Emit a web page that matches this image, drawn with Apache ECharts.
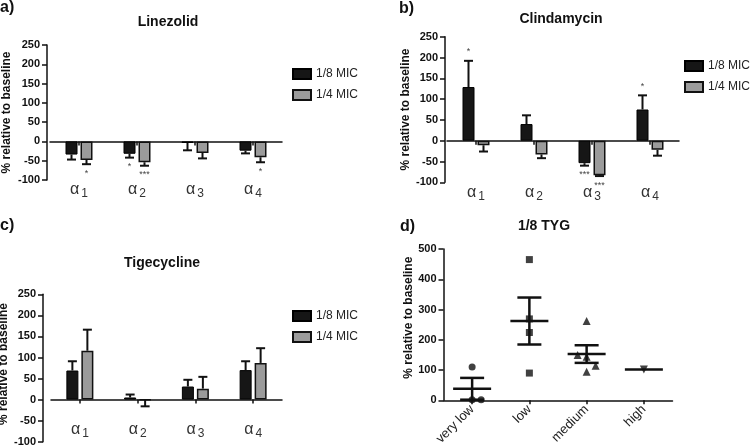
<!DOCTYPE html>
<html><head><meta charset="utf-8">
<script src="https://cdn.jsdelivr.net/npm/echarts@6/dist/echarts.min.js"></script>
<style>html,body{margin:0;padding:0;background:#fff}#c{width:754px;height:447px}</style>
</head><body><div id="c"></div><script>
// ---------- data ----------
const alphaCats = ['α1', 'α2', 'α3', 'α4'];
const seriesNames = ['1/8 MIC', '1/4 MIC'];

// a) Linezolid
const linezolidEighth = [-34, -32, -4, -24];
const linezolidEighthErr = [13, 10, 19, 7];
const linezolidEighthSig = ['', '*', '', ''];
const linezolidQuarter = [-48, -54, -30, -41];
const linezolidQuarterErr = [11, 9, 14, 13];
const linezolidQuarterSig = ['*', '***', '', '*'];

// b) Clindamycin
const clindaEighth = [129, 40, -54, 75];
const clindaEighthErr = [63, 21, 6, 34];
const clindaEighthSig = ['*', '', '***', '*'];
const clindaQuarter = [-11, -33, -83, -22];
const clindaQuarterErr = [15, 9, 2, 14];
const clindaQuarterSig = ['', '', '***', ''];

// c) Tigecycline
const tigeEighth = [69, 5, 31, 70];
const tigeEighthErr = [22, 7, 16, 21];
const tigeQuarter = [116, -1, 26, 87];
const tigeQuarterErr = [50, 15, 28, 35];

// d) 1/8 TYG
const tygCats = ['very low', 'low', 'medium', 'high'];
const tygVeryLow = [110, 2, 2];
const tygLow = [465, 269, 224, 90];
const tygMedium = [262, 150, 144, 114, 94];
const tygHigh = [102];

// ---------- helpers ----------
const FONT = "'Liberation Sans', Arial, Helvetica, sans-serif";
const INK = '#111';

function meanSem(arr) {
  const n = arr.length;
  const m = arr.reduce((s, v) => s + v, 0) / n;
  if (n < 2) return [m, 0];
  const sd = Math.sqrt(arr.reduce((s, v) => s + (v - m) * (v - m), 0) / (n - 1));
  return [m, sd / Math.sqrt(n)];
}

function barPanelAxes(gi, yOffset, nameGap, namePad, labelOffset) {
  const y = {
    gridIndex: gi, type: 'value', min: -100, max: 250, interval: 50, offset: yOffset,
    axisLine: { show: true, lineStyle: { color: INK, width: 1.5 } },
    axisTick: { show: true, length: 5, lineStyle: { color: INK, width: 1.5 } },
    axisLabel: { fontFamily: FONT, fontWeight: 'bold', fontSize: 11, color: INK, margin: 7 },
    splitLine: { show: false },
    name: '% relative to baseline', nameLocation: 'middle', nameGap: nameGap,
    nameTextStyle: { fontFamily: FONT, fontWeight: 'bold', fontSize: 12, color: INK, padding: namePad }
  };
  const xZero = {
    gridIndex: gi, type: 'category', data: alphaCats, position: 'bottom',
    axisLine: { show: true, onZero: true, lineStyle: { color: INK, width: 1.5 } },
    axisTick: { show: true, alignWithLabel: true, interval: 0, length: 4, lineStyle: { color: INK, width: 1.5 } },
    axisLabel: { show: false, interval: 0 }, splitLine: { show: false }
  };
  const xLab = {
    gridIndex: gi, type: 'category', data: alphaCats, position: 'bottom', offset: labelOffset,
    axisLine: { show: false, onZero: false }, axisTick: { show: false }, splitLine: { show: false },
    axisLabel: {
      margin: 2, interval: 0, hideOverlap: false,
      formatter: v => '{a|' + v.charAt(0) + '}{s|' + v.slice(1) + '}',
      rich: {
        a: { fontFamily: FONT, fontSize: 16, color: '#333', verticalAlign: 'top', lineHeight: 18 },
        s: { fontFamily: FONT, fontSize: 12, color: '#333', verticalAlign: 'top', lineHeight: 14, padding: [6, 0, 0, 2] }
      }
    }
  };
  return { y, xZero, xLab };
}

function barSeries(axisIdx, name, vals, dark) {
  return {
    type: 'bar', name, xAxisIndex: axisIdx.x, yAxisIndex: axisIdx.y, data: vals,
    barWidth: 12, barGap: '25%', z: 2,
    itemStyle: dark
      ? { color: '#161616', borderColor: '#000', borderWidth: 1 }
      : { color: '#9b9b9b', borderColor: '#111', borderWidth: 1.5 }
  };
}

function errSeries(axisIdx, vals, errs, sigs, side) {
  return {
    type: 'custom', xAxisIndex: axisIdx.x, yAxisIndex: axisIdx.y, z: 3, silent: true,
    data: vals.map((v, i) => [i, v, errs[i]]),
    renderItem(params, api) {
      const i = api.value(0), v = api.value(1), e = api.value(2);
      const sig = sigs ? sigs[params.dataIndex] : '';
      const dir = v >= 0 ? 1 : -1;
      const base = api.coord([i, v]);
      const tip = api.coord([i, v + dir * e]);
      const x = base[0] + side * 7.5;
      const ch = [
        { type: 'line', shape: { x1: x, y1: base[1], x2: x, y2: tip[1] }, style: { stroke: INK, lineWidth: 2 } },
        { type: 'line', shape: { x1: x - 4.5, y1: tip[1], x2: x + 4.5, y2: tip[1] }, style: { stroke: INK, lineWidth: 2 } }
      ];
      if (sig) ch.push({ type: 'text', x: x, y: tip[1] - dir * 9,
        style: { text: sig, align: 'center', verticalAlign: 'middle', fontSize: 9, fontFamily: FONT, fill: '#444' } });
      return { type: 'group', children: ch };
    }
  };
}

// ---------- layout ----------
const grids = [
  { left: 50, top: 45, width: 232, height: 135 },
  { left: 447, top: 36.7, width: 232, height: 145.6 },
  { left: 51, top: 294.3, width: 231, height: 147.4 },
  { left: 443.5, top: 249, width: 229, height: 151.3 }
].map(g => Object.assign({ outerBoundsMode: 'none', containLabel: false }, g));

const A = barPanelAxes(0, 3, 34, [0, 0, 0, 0], 0);
const B = barPanelAxes(1, 2, 33, [0, 0, 0, 0], 0);
const C = barPanelAxes(2, 8, 31, [0, 0, 0, 8], -22);

const yD = {
  gridIndex: 3, type: 'value', min: 0, max: 500, interval: 100,
  axisLine: { show: true, lineStyle: { color: INK, width: 1.5 } },
  axisTick: { show: true, length: 5, lineStyle: { color: INK, width: 1.5 } },
  axisLabel: { fontFamily: FONT, fontWeight: 'bold', fontSize: 11, color: INK, margin: 7 },
  splitLine: { show: false },
  name: '% relative to baseline', nameLocation: 'middle', nameGap: 28,
  nameTextStyle: { fontFamily: FONT, fontWeight: 'bold', fontSize: 12, color: INK, padding: [0, 0, 0, 14] }
};
const xD = {
  gridIndex: 3, type: 'category', data: tygCats, position: 'bottom',
  axisLine: { show: true, lineStyle: { color: INK, width: 1.5 } },
  axisTick: { show: true, alignWithLabel: true, interval: 0, length: 4, lineStyle: { color: INK, width: 1.5 } },
  axisLabel: { rotate: 45, interval: 0, fontFamily: FONT, fontSize: 13, color: '#222', margin: 7 },
  splitLine: { show: false }
};

const xAxes = [A.xZero, A.xLab, B.xZero, B.xLab, C.xZero, C.xLab, xD];
const yAxes = [A.y, B.y, C.y, yD];
const ia = { x: 0, y: 0 }, ib = { x: 2, y: 1 }, ic = { x: 4, y: 2 }, id = { x: 6, y: 3 };

const series = [
  barSeries(ia, seriesNames[0], linezolidEighth, true),
  barSeries(ia, seriesNames[1], linezolidQuarter, false),
  errSeries(ia, linezolidEighth, linezolidEighthErr, linezolidEighthSig, -1),
  errSeries(ia, linezolidQuarter, linezolidQuarterErr, linezolidQuarterSig, 1),
  barSeries(ib, seriesNames[0], clindaEighth, true),
  barSeries(ib, seriesNames[1], clindaQuarter, false),
  errSeries(ib, clindaEighth, clindaEighthErr, clindaEighthSig, -1),
  errSeries(ib, clindaQuarter, clindaQuarterErr, clindaQuarterSig, 1),
  barSeries(ic, seriesNames[0], tigeEighth, true),
  barSeries(ic, seriesNames[1], tigeQuarter, false),
  errSeries(ic, tigeEighth, tigeEighthErr, null, -1),
  errSeries(ic, tigeQuarter, tigeQuarterErr, null, 1)
];

// d) scatter groups (small horizontal spread like the original dot plot)
const tygGroups = [
  { vals: tygVeryLow, symbol: 'circle', size: 7, rot: 0, spread: [0, 0, 9] },
  { vals: tygLow, symbol: 'rect', size: 7, rot: 0, spread: [0, 0, 0, 0] },
  { vals: tygMedium, symbol: 'triangle', size: 8, rot: 0, spread: [0, -9, 0, 9, 0] },
  { vals: tygHigh, symbol: 'triangle', size: 8, rot: 180, spread: [0] }
];
tygGroups.forEach((g, ci) => {
  series.push({
    type: 'scatter', xAxisIndex: id.x, yAxisIndex: id.y, symbol: g.symbol, symbolSize: g.size,
    symbolRotate: g.rot, itemStyle: { color: INK }, z: 3,
    data: g.vals.map((v, k) => ({ value: [ci, v], symbolOffset: [g.spread[k], 0] }))
  });
});
series.push({
  type: 'custom', xAxisIndex: id.x, yAxisIndex: id.y, z: 2, silent: true,
  data: tygGroups.map((g, ci) => { const ms = meanSem(g.vals); return [ci, ms[0], ms[1]]; }),
  renderItem(params, api) {
    const i = api.value(0), m = api.value(1), s = api.value(2);
    const c = api.coord([i, m]);
    const hi = api.coord([i, m + s]);
    const lo = api.coord([i, Math.max(m - s, 0)]);
    const st = { stroke: INK, lineWidth: 2.5 };
    const ch = [{ type: 'line', shape: { x1: c[0] - 19, y1: c[1], x2: c[0] + 19, y2: c[1] }, style: st }];
    if (s > 0) {
      ch.push({ type: 'line', shape: { x1: c[0], y1: hi[1], x2: c[0], y2: lo[1] }, style: st });
      ch.push({ type: 'line', shape: { x1: c[0] - 12, y1: hi[1], x2: c[0] + 12, y2: hi[1] }, style: st });
      ch.push({ type: 'line', shape: { x1: c[0] - 12, y1: lo[1], x2: c[0] + 12, y2: lo[1] }, style: st });
    }
    return { type: 'group', children: ch };
  }
});

const legendBase = {
  data: seriesNames, orient: 'vertical', itemWidth: 18, itemHeight: 10, itemGap: 9, padding: 0,
  icon: 'rect', selectedMode: false,
  textStyle: { fontFamily: FONT, fontSize: 12, color: '#222' }
};
const legends = [
  Object.assign({}, legendBase, { left: 292, top: 68 }),
  Object.assign({}, legendBase, { left: 684, top: 60 }),
  Object.assign({}, legendBase, { left: 292, top: 310 })
];

function txt(t, x, y, size, align) {
  return { type: 'text', x, y, style: { text: t, fontFamily: FONT, fontWeight: 'bold', fontSize: size,
    fill: INK, align: align || 'center', verticalAlign: 'middle' } };
}
const graphics = [
  txt('a)', 0, 8, 16, 'left'),
  txt('b)', 399, 9, 16, 'left'),
  txt('c)', 0, 226, 16, 'left'),
  txt('d)', 400, 227, 16, 'left'),
  txt('Linezolid', 168, 22, 14),
  txt('Clindamycin', 561, 19.5, 14),
  txt('Tigecycline', 162, 263, 14),
  txt('1/8 TYG', 544, 226, 14)
];

const chart = echarts.init(document.getElementById('c'), null, { renderer: 'canvas' });
chart.setOption({
  backgroundColor: '#fff',
  animation: false,
  textStyle: { fontFamily: FONT },
  grid: grids,
  xAxis: xAxes,
  yAxis: yAxes,
  legend: legends,
  series,
  graphic: graphics
});
</script></body></html>
